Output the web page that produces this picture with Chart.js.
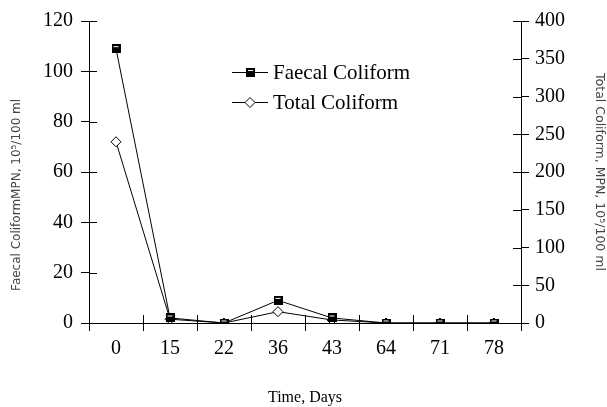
<!DOCTYPE html>
<html>
<head>
<meta charset="utf-8">
<script src="https://cdn.jsdelivr.net/npm/chart.js@4/dist/chart.umd.min.js"></script>
<style>
  html, body { margin: 0; padding: 0; background: #fff; }
  #wrap { width: 607px; height: 407px; position: relative; }
</style>
</head>
<body>
<div id="wrap"><canvas id="c" width="607" height="407"></canvas></div>
<script>
const days = ['0', '15', '22', '36', '43', '64', '71', '78'];
const faecal = [109, 2, 0, 9, 2, 0, 0, 0];
const total = [240, 5, 0, 15, 4, 0, 0, 0];
const seriesNames = ['Faecal Coliform', 'Total Coliform'];
const leftTitle = 'Faecal ColiformMPN, 10\u2075/100 ml';
const rightTitle = 'Total Coliform, MPN, 10\u2075/100 ml';
const xTitle = 'Time, Days';

// square marker with white highlight line
const sq = document.createElement('canvas');
sq.width = 9; sq.height = 9;
(function () {
  const g = sq.getContext('2d');
  g.fillStyle = '#000';
  g.fillRect(0, 0, 9, 9);
  g.fillStyle = '#fff';
  g.fillRect(2, 2, 5, 1);
})();

const innerTicks = {
  id: 'innerTicks',
  afterDraw(chart) {
    const ctx = chart.ctx;
    const a = chart.chartArea;
    ctx.save();
    ctx.strokeStyle = '#000';
    ctx.lineWidth = 1;
    ctx.beginPath();
    const y = chart.scales.y, y2 = chart.scales.y2, x = chart.scales.x;
    y.ticks.forEach(t => {
      const p = Math.round(y.getPixelForValue(t.value)) + 0.5;
      ctx.moveTo(a.left, p); ctx.lineTo(a.left + 8, p);
    });
    y2.ticks.forEach(t => {
      const p = Math.round(y2.getPixelForValue(t.value)) + 0.5;
      ctx.moveTo(a.right - 8, p); ctx.lineTo(a.right, p);
    });
    for (let i = 1; i < x.ticks.length; i++) {
      const p = Math.round((x.getPixelForTick(i - 1) + x.getPixelForTick(i)) / 2) + 0.5;
      ctx.moveTo(p, a.bottom); ctx.lineTo(p, a.bottom - 8);
    }
    ctx.stroke();
    ctx.restore();
  }
};

const legendPlugin = {
  id: 'customLegend',
  afterDraw(chart) {
    const ctx = chart.ctx;
    ctx.save();
    const x0 = 232, x1 = 268, ys = [72, 102];
    chart.data.datasets.forEach((ds, i) => {
      const yy = ys[i] + 0.5;
      ctx.strokeStyle = '#000';
      ctx.lineWidth = 1;
      ctx.beginPath();
      ctx.moveTo(x0, yy); ctx.lineTo(x1, yy);
      ctx.stroke();
      const cx = (x0 + x1) / 2;
      if (ds.pointStyle === sq) {
        ctx.drawImage(sq, cx - 4, ys[i] - 4);
      } else {
        ctx.beginPath();
        ctx.moveTo(cx, yy - 5); ctx.lineTo(cx + 5, yy); ctx.lineTo(cx, yy + 5); ctx.lineTo(cx - 5, yy); ctx.closePath();
        ctx.fillStyle = '#fff'; ctx.fill(); ctx.stroke();
      }
      ctx.fillStyle = '#000';
      ctx.font = '21px "Liberation Serif", "Times New Roman", serif';
      ctx.textBaseline = 'middle';
      ctx.textAlign = 'left';
      ctx.fillText(ds.label, 273, ys[i] + 1);
    });
    ctx.restore();
  }
};

const serif = '"Liberation Serif", "Times New Roman", serif';

new Chart(document.getElementById('c'), {
  type: 'line',
  data: {
    labels: days,
    datasets: [
      {
        label: seriesNames[0], data: faecal, yAxisID: 'y',
        borderColor: '#000', borderWidth: 1, backgroundColor: '#000',
        pointStyle: sq, pointRadius: 5, tension: 0
      },
      {
        label: seriesNames[1], data: total, yAxisID: 'y2',
        borderColor: '#000', borderWidth: 1, backgroundColor: '#fff',
        pointStyle: 'rectRot', pointRadius: 5, pointBorderWidth: 1,
        pointBackgroundColor: '#fff', pointBorderColor: '#000', tension: 0
      }
    ]
  },
  options: {
    responsive: false,
    animation: false,
    events: [],
    layout: { padding: { top: 21, bottom: 0, left: 0, right: 0 } },
    plugins: { legend: { display: false }, tooltip: { enabled: false } },
    scales: {
      x: {
        type: 'category', offset: true,
        grid: { offset: true, drawOnChartArea: false, tickLength: 8, color: '#000', lineWidth: 1 },
        border: { color: '#000', width: 1 },
        ticks: { color: '#000', font: { family: serif, size: 20 }, padding: 6, maxRotation: 0 },
        title: { display: true, text: xTitle, color: '#000', font: { family: serif, size: 16 }, padding: { top: 0, bottom: 0 } },
        afterFit(s) { s.height = 84; }
      },
      y: {
        position: 'left', min: 0, max: 120,
        grid: { drawOnChartArea: false, tickLength: 8, color: '#000', lineWidth: 1 },
        border: { color: '#000', width: 1 },
        ticks: { stepSize: 20, color: '#000', font: { family: serif, size: 20 }, padding: 8 },
        title: { display: true, text: leftTitle + '            ', color: '#444', font: { family: '"DejaVu Sans", sans-serif', size: 12 }, padding: { top: 10, bottom: 0 } },
        afterFit(s) { s.width = 89; }
      },
      y2: {
        position: 'right', min: 0, max: 400,
        grid: { drawOnChartArea: false, tickLength: 8, color: '#000', lineWidth: 1 },
        border: { color: '#000', width: 1 },
        ticks: { stepSize: 50, color: '#000', font: { family: serif, size: 20 }, padding: 6 },
        title: { display: true, text: rightTitle, color: '#444', font: { family: '"DejaVu Sans", sans-serif', size: 12.5 }, padding: { top: 0, bottom: 0 } },
        afterFit(s) { s.width = 86; }
      }
    }
  },
  plugins: [innerTicks, legendPlugin]
});
</script>
</body>
</html>
